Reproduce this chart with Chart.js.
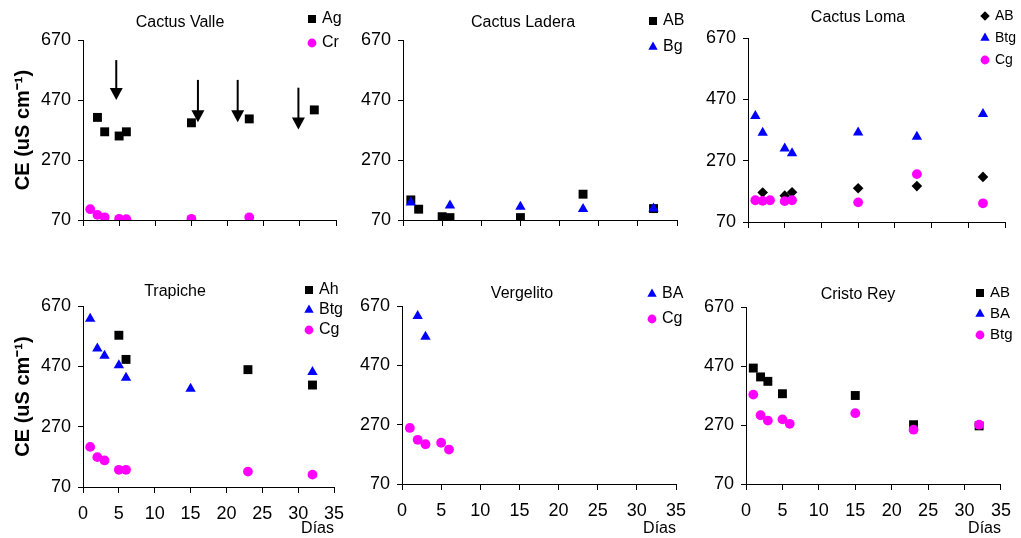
<!DOCTYPE html>
<html>
<head>
<meta charset="utf-8">
<script src="https://cdn.jsdelivr.net/npm/chart.js@4.4.1/dist/chart.umd.min.js"></script>
<style>
  html, body { margin: 0; padding: 0; background: #fff; }
  #wrap { position: relative; width: 1021px; height: 538px; }
  #wrap canvas { position: absolute; left: 0; top: 0; }
</style>
</head>
<body>
<div id="wrap"></div>
<script>
// Axis ticks
const diasTicks = [0, 5, 10, 15, 20, 25, 30, 35];
const ceTicks = [70, 270, 470, 670];

// Cactus Valle
const valleAgDias = [2, 3, 5, 6, 15, 23, 32];
const valleAgCE = [412, 364, 350, 364, 394, 407, 437];
const valleCrDias = [1, 2, 3, 5, 6, 15, 23];
const valleCrCE = [106, 87, 79, 74, 73, 74, 79];
// arrows (day, top, tip)
const valleArrowDias = [4.6, 15.9, 21.4, 29.8];
const valleArrowTop = [603, 537, 537, 511];
const valleArrowTip = [470, 396, 396, 372];

// Cactus Ladera
const laderaABDias = [1, 2, 5, 6, 15, 23, 32];
const laderaABCE = [137, 106, 81, 78, 78, 156, 108];
const laderaBgDias = [1, 6, 15, 23, 32];
const laderaBgCE = [128, 118, 114, 107, 108];

// Cactus Loma
const lomaABDias = [2, 5, 6, 15, 23, 32];
const lomaABCE = [166, 156, 167, 180, 187, 217];
const lomaBtgDias = [1, 2, 5, 6, 15, 23, 32];
const lomaBtgCE = [416, 361, 310, 294, 362, 348, 422];
const lomaCgDias = [1, 2, 3, 5, 6, 15, 23, 32];
const lomaCgCE = [141, 139, 141, 138, 141, 134, 226, 131];

// Trapiche
const trapAhDias = [5, 6, 23, 32];
const trapAhCE = [573, 493, 459, 408];
const trapBtgDias = [1, 2, 3, 5, 6, 15, 32];
const trapBtgCE = [628, 529, 505, 474, 432, 396, 451];
const trapCgDias = [1, 2, 3, 5, 6, 23, 32];
const trapCgCE = [203, 169, 158, 127, 127, 121, 111];

// Vergelito
const vergBADias = [2, 3];
const vergBACE = [636, 566];
const vergCgDias = [1, 2, 3, 5, 6];
const vergCgCE = [259, 219, 204, 209, 186];

// Cristo Rey
const cristoABDias = [1, 2, 3, 5, 15, 23, 32];
const cristoABCE = [463, 433, 418, 376, 370, 271, 267];
const cristoBADias = [];
const cristoBACE = [];
const cristoBtgDias = [1, 2, 3, 5, 6, 15, 23, 32];
const cristoBtgCE = [373, 303, 285, 289, 274, 310, 254, 271];

const BLACK = '#000000';
const BLUE = '#0000ff';
const MAGENTA = '#ff00ff';
const FONT = '"Liberation Sans", Arial, sans-serif';

const markers = {
    square: { pointStyle: 'rect', radius: 6.3 },
    triangle: { pointStyle: 'triangle', radius: 6 },
    circle: { pointStyle: 'circle', radius: 4.9 },
    diamond: { pointStyle: 'rectRot', radius: 5.3 }
};

const panels = [
    {
        title: 'Cactus Valle', area: [83, 336, 40, 220], titleAt: [180, 23],
        legendAt: [312, 19, 24], legendSize: 16, yTitle: true, xLabels: false,
        series: [
            { label: 'Ag', dias: valleAgDias, ce: valleAgCE, marker: 'square', color: BLACK },
            { label: 'Cr', dias: valleCrDias, ce: valleCrCE, marker: 'circle', color: MAGENTA }
        ],
        arrows: { dias: valleArrowDias, top: valleArrowTop, tip: valleArrowTip }
    },
    {
        title: 'Cactus Ladera', area: [403, 677, 40, 220], titleAt: [523, 23],
        legendAt: [653, 21, 26], legendSize: 16, yTitle: false, xLabels: false,
        series: [
            { label: 'AB', dias: laderaABDias, ce: laderaABCE, marker: 'square', color: BLACK },
            { label: 'Bg', dias: laderaBgDias, ce: laderaBgCE, marker: 'triangle', color: BLUE }
        ]
    },
    {
        title: 'Cactus Loma', area: [748, 1005, 38, 222], titleAt: [858, 18],
        legendAt: [985, 16, 22], legendSize: 14, yTitle: false, xLabels: false,
        series: [
            { label: 'AB', dias: lomaABDias, ce: lomaABCE, marker: 'diamond', color: BLACK },
            { label: 'Btg', dias: lomaBtgDias, ce: lomaBtgCE, marker: 'triangle', color: BLUE },
            { label: 'Cg', dias: lomaCgDias, ce: lomaCgCE, marker: 'circle', color: MAGENTA }
        ]
    },
    {
        title: 'Trapiche', area: [83, 334, 306, 487], titleAt: [175, 292],
        legendAt: [309, 290, 20], legendSize: 16, yTitle: true, xLabels: true,
        series: [
            { label: 'Ah', dias: trapAhDias, ce: trapAhCE, marker: 'square', color: BLACK },
            { label: 'Btg', dias: trapBtgDias, ce: trapBtgCE, marker: 'triangle', color: BLUE },
            { label: 'Cg', dias: trapCgDias, ce: trapCgCE, marker: 'circle', color: MAGENTA }
        ]
    },
    {
        title: 'Vergelito', area: [402, 676, 306, 484], titleAt: [522, 294],
        legendAt: [652, 294, 25], legendSize: 16, yTitle: false, xLabels: true,
        series: [
            { label: 'BA', dias: vergBADias, ce: vergBACE, marker: 'triangle', color: BLUE },
            { label: 'Cg', dias: vergCgDias, ce: vergCgCE, marker: 'circle', color: MAGENTA }
        ]
    },
    {
        title: 'Cristo Rey', area: [746, 1005, 307, 484], titleAt: [858, 295],
        legendAt: [980, 293, 21], legendSize: 15, yTitle: false, xLabels: true,
        series: [
            { label: 'AB', dias: cristoABDias, ce: cristoABCE, marker: 'square', color: BLACK },
            { label: 'BA', dias: cristoBADias, ce: cristoBACE, marker: 'triangle', color: BLUE },
            { label: 'Btg', dias: cristoBtgDias, ce: cristoBtgCE, marker: 'circle', color: MAGENTA }
        ]
    }
];

Chart.defaults.font.family = FONT;
Chart.defaults.color = BLACK;

// title, legend and arrows drawn on top of each panel
function decorPlugin(panel) {
    return {
        id: 'panelDecor',
        afterDraw(chart) {
            const ctx = chart.ctx;
            ctx.save();
            ctx.fillStyle = BLACK;
            ctx.font = '16px ' + FONT;
            ctx.textAlign = 'center';
            ctx.textBaseline = 'middle';
            ctx.fillText(panel.title, panel.titleAt[0], panel.titleAt[1]);

            const [lx, ly, step] = panel.legendAt;
            ctx.font = panel.legendSize + 'px ' + FONT;
            ctx.textAlign = 'left';
            panel.series.forEach((s, i) => {
                const y = ly + i * step;
                const m = markers[s.marker];
                ctx.fillStyle = s.color;
                ctx.strokeStyle = s.color;
                Chart.helpers.drawPoint(ctx, { pointStyle: m.pointStyle, radius: m.radius * 0.9, rotation: 0, borderWidth: 0 }, lx, y);
                ctx.fillStyle = BLACK;
                ctx.fillText(s.label, lx + 10, y);
            });

            if (panel.arrows) {
                const xs = chart.scales.x, ys = chart.scales.y;
                ctx.strokeStyle = BLACK;
                ctx.fillStyle = BLACK;
                ctx.lineWidth = 2;
                panel.arrows.dias.forEach((d, i) => {
                    const x = xs.getPixelForValue(d);
                    const y0 = ys.getPixelForValue(panel.arrows.top[i]);
                    const y1 = ys.getPixelForValue(panel.arrows.tip[i]);
                    ctx.beginPath();
                    ctx.moveTo(x, y0);
                    ctx.lineTo(x, y1 - 10);
                    ctx.stroke();
                    ctx.beginPath();
                    ctx.moveTo(x - 6.5, y1 - 12);
                    ctx.lineTo(x + 6.5, y1 - 12);
                    ctx.lineTo(x, y1);
                    ctx.closePath();
                    ctx.fill();
                });
            }
            ctx.restore();
        }
    };
}

const wrap = document.getElementById('wrap');

panels.forEach(panel => {
    const canvas = document.createElement('canvas');
    canvas.width = 1021;
    canvas.height = 538;
    wrap.appendChild(canvas);

    const [a, b, c, d] = panel.area;
    const yw = panel.yTitle ? 72 : 45;
    const xh = panel.xLabels ? 538 - d : 10;

    new Chart(canvas, {
        type: 'scatter',
        data: {
            datasets: panel.series.map((s, i) => ({
                label: s.label,
                data: s.dias.map((x, k) => ({ x: x, y: s.ce[k] })),
                pointStyle: markers[s.marker].pointStyle,
                pointRadius: markers[s.marker].radius,
                pointHoverRadius: markers[s.marker].radius,
                pointBorderWidth: 0,
                backgroundColor: s.color,
                borderColor: s.color,
                showLine: false,
                order: -i
            }))
        },
        options: {
            responsive: false,
            animation: false,
            events: [],
            layout: {
                padding: {
                    left: a - yw,
                    right: 1021 - b,
                    top: c,
                    bottom: panel.xLabels ? 0 : 538 - d - xh
                }
            },
            plugins: {
                legend: { display: false },
                title: { display: false },
                tooltip: { enabled: false }
            },
            scales: {
                x: {
                    type: 'linear',
                    min: diasTicks[0],
                    max: diasTicks[diasTicks.length - 1],
                    afterBuildTicks: s => { s.ticks = diasTicks.map(v => ({ value: v })); },
                    ticks: { display: panel.xLabels, color: BLACK, padding: 10, font: { size: 18 }, maxRotation: 0 },
                    grid: { drawOnChartArea: false, drawTicks: true, tickLength: 6, color: BLACK },
                    border: { display: true, color: BLACK, width: 1 },
                    title: { display: panel.xLabels, text: 'Días', align: 'end', color: BLACK, font: { size: 16 }, padding: 0 },
                    afterFit: s => { s.height = xh; }
                },
                y: {
                    type: 'linear',
                    min: ceTicks[0],
                    max: ceTicks[ceTicks.length - 1],
                    afterBuildTicks: s => { s.ticks = ceTicks.map(v => ({ value: v })); },
                    ticks: { color: BLACK, padding: 7, font: { size: 18 } },
                    grid: { drawOnChartArea: false, drawTicks: true, tickLength: 5, color: BLACK },
                    border: { display: true, color: BLACK, width: 1 },
                    title: { display: panel.yTitle, text: 'CE (uS cm⁻¹)', color: BLACK, font: { size: 20, weight: 'bold' }, padding: 0 },
                    afterFit: s => { s.width = yw; }
                }
            }
        },
        plugins: [decorPlugin(panel)]
    });
});
</script>
</body>
</html>
